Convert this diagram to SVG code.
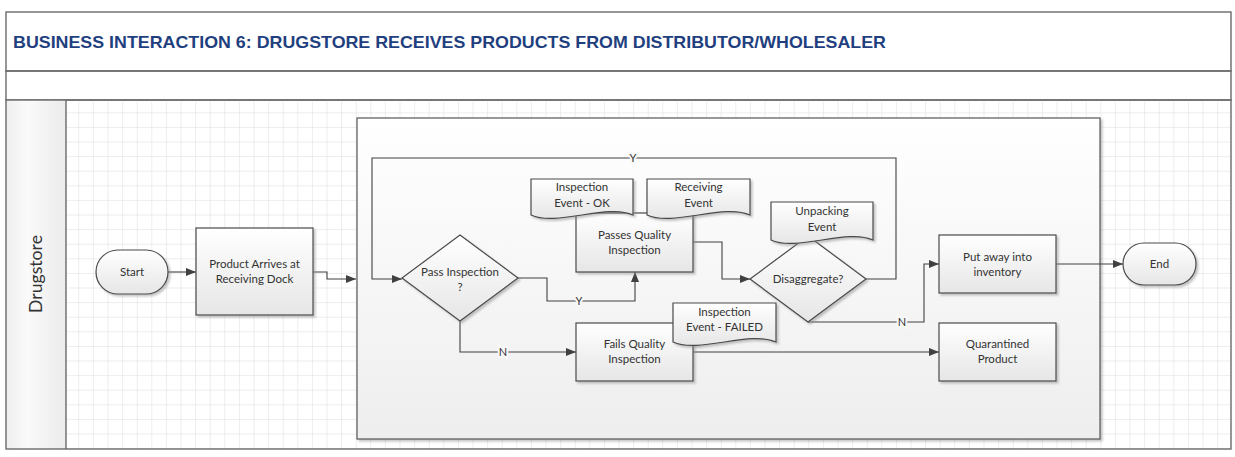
<svg xmlns="http://www.w3.org/2000/svg" width="1235" height="457" viewBox="0 0 1235 457">
<defs>
<style>
.frame{fill:none;stroke:#6a6a6a;stroke-width:1.4}
.node{fill:url(#ng);stroke:#4a4a4a;stroke-width:1.2;filter:url(#sh)}
.doc{fill:url(#ng);stroke:#4a4a4a;stroke-width:1.2;filter:url(#sh)}
.lbl{font-family:Lato,"Open Sans","Liberation Sans",sans-serif;font-size:11.5px;fill:#333;text-anchor:middle}
.conn{fill:none;stroke:#404040;stroke-width:1.1}
.ctl{font-family:Lato,"Open Sans","Liberation Sans",sans-serif;font-size:11px;fill:#333;text-anchor:middle;paint-order:stroke;stroke:#f8f8f8;stroke-width:4px}
</style>
<linearGradient id="ng" x1="0" y1="0" x2="0" y2="1"><stop offset="0" stop-color="#ffffff"/><stop offset="1" stop-color="#e6e6e6"/></linearGradient>
<linearGradient id="gg" x1="0" y1="0" x2="0" y2="1"><stop offset="0" stop-color="#ffffff"/><stop offset="1" stop-color="#eeeeee"/></linearGradient>
<linearGradient id="hg" x1="0" y1="0" x2="0" y2="1"><stop offset="0" stop-color="#fafafa"/><stop offset="0.5" stop-color="#f7f7f7"/><stop offset="1" stop-color="#ebebeb"/></linearGradient>
<linearGradient id="lg" x1="0" y1="0" x2="1" y2="0"><stop offset="0" stop-color="#efefef"/><stop offset="0.35" stop-color="#fafafa"/><stop offset="1" stop-color="#ebebeb"/></linearGradient>
<pattern id="grid" x="64.7" y="98.7" width="14.6" height="14.6" patternUnits="userSpaceOnUse"><path d="M14.6 0V14.6M0 14.6H14.6" fill="none" stroke="#dcdcdc" stroke-width="1"/></pattern>
<filter id="sh" x="-10%" y="-10%" width="130%" height="130%"><feDropShadow dx="2" dy="2" stdDeviation="1" flood-color="#888" flood-opacity="0.5"/></filter>
<marker id="ar" viewBox="0 0 10 8" refX="10" refY="4" markerWidth="10" markerHeight="8" markerUnits="userSpaceOnUse" orient="auto"><path d="M0 0L10 4L0 8Z" fill="#404040"/></marker>
</defs>
<rect x="0" y="0" width="1235" height="457" fill="#ffffff"/>
<g id="header">
<rect x="6" y="12" width="1225" height="59" fill="url(#hg)" class="frame"/>
<text x="13" y="48" font-family="Liberation Sans,Arial,sans-serif" font-size="16.5" font-weight="bold" fill="#1f3f7f" textLength="873" lengthAdjust="spacingAndGlyphs">BUSINESS INTERACTION 6: DRUGSTORE RECEIVES PRODUCTS FROM DISTRIBUTOR/WHOLESALER</text>
<rect x="6" y="71" width="1225" height="29" fill="url(#hg)" class="frame"/>
</g>
<g id="lane">
<rect x="66" y="100" width="1165" height="349" fill="url(#grid)"/>
<rect x="6" y="100" width="60" height="349" fill="url(#lg)"/>
<rect x="6" y="100" width="1225" height="349" class="frame"/>
<line x1="66" y1="100" x2="66" y2="449" stroke="#6a6a6a" stroke-width="1.4"/>
<text transform="translate(42,274) rotate(-90)" text-anchor="middle" font-family="Lato,'Open Sans','Liberation Sans',sans-serif" font-size="17" fill="#333" textLength="78" lengthAdjust="spacingAndGlyphs">Drugstore</text>
</g>
<g id="group-box">
<rect x="357" y="118" width="743" height="321" fill="url(#gg)" stroke="#555" stroke-width="1.2" filter="url(#sh)"/>
</g>
<g id="connectors">
<path class="conn" d="M168 272H196" marker-end="url(#ar)"/>
<path class="conn" d="M313 272H327V279H356" marker-end="url(#ar)"/>
<path class="conn" d="M866 279H896V158H372V279H402" marker-end="url(#ar)"/>
<path class="conn" d="M518 278H547V301H635V272" marker-end="url(#ar)"/>
<path class="conn" d="M460 321V352H576" marker-end="url(#ar)"/>
<path class="conn" d="M693 242H722V279H750" marker-end="url(#ar)"/>
<path class="conn" d="M808 322H924V264H939" marker-end="url(#ar)"/>
<path class="conn" d="M1056 264H1123" marker-end="url(#ar)"/>
<path class="conn" d="M693 352H939" marker-end="url(#ar)"/>
<text class="ctl" x="633" y="162">Y</text>
<text class="ctl" x="579" y="305">Y</text>
<text class="ctl" x="503" y="356">N</text>
<text class="ctl" x="902" y="326">N</text>
</g>
<g id="start">
<rect class="node" x="96" y="250" width="72" height="44" rx="22" ry="22"/>
<text class="lbl" x="132" y="276">Start</text>
</g>
<g id="product-arrives">
<rect class="node" x="196" y="228" width="117" height="87"/>
<text class="lbl" x="254.5" y="268">Product Arrives at</text>
<text class="lbl" x="254.5" y="283">Receiving Dock</text>
</g>
<g id="pass-inspection">
<path class="node" d="M460 235L518 278L460 321L402 278Z"/>
<text class="lbl" x="460" y="276">Pass Inspection</text>
<text class="lbl" x="460" y="291">?</text>
</g>
<g id="passes-quality">
<rect class="node" x="576" y="213" width="117" height="59"/>
<text class="lbl" x="634.5" y="239">Passes Quality</text>
<text class="lbl" x="634.5" y="254">Inspection</text>
</g>
<g id="inspection-ok">
<path class="doc" d="M531 179H633V215C607.5 203 556.5 227 531 215Z"/>
<text class="lbl" x="582" y="191">Inspection</text>
<text class="lbl" x="582" y="207">Event - OK</text>
</g>
<g id="receiving-event">
<path class="doc" d="M647 179H750V215C724 203 673 227 647 215Z"/>
<text class="lbl" x="698.5" y="191">Receiving</text>
<text class="lbl" x="698.5" y="207">Event</text>
</g>
<g id="disaggregate">
<path class="node" d="M808 236L866 279L808 322L750 279Z"/>
<text class="lbl" x="808" y="283">Disaggregate?</text>
</g>
<g id="unpacking-event">
<path class="doc" d="M771 202H873V240C847.5 228 796.5 252 771 240Z"/>
<text class="lbl" x="822" y="215">Unpacking</text>
<text class="lbl" x="822" y="231">Event</text>
</g>
<g id="fails-quality">
<rect class="node" x="576" y="323" width="117" height="58"/>
<text class="lbl" x="634.5" y="348">Fails Quality</text>
<text class="lbl" x="634.5" y="363">Inspection</text>
</g>
<g id="inspection-failed">
<path class="doc" d="M673 303H776V342C750 330 699 354 673 342Z"/>
<text class="lbl" x="724.5" y="316">Inspection</text>
<text class="lbl" x="724.5" y="331">Event - FAILED</text>
</g>
<g id="put-away">
<rect class="node" x="939" y="235" width="117" height="58"/>
<text class="lbl" x="997.5" y="261">Put away into</text>
<text class="lbl" x="997.5" y="276">inventory</text>
</g>
<g id="quarantined">
<rect class="node" x="939" y="323" width="117" height="58"/>
<text class="lbl" x="997.5" y="348">Quarantined</text>
<text class="lbl" x="997.5" y="363">Product</text>
</g>
<g id="end">
<rect class="node" x="1123" y="243" width="73" height="42" rx="21" ry="21"/>
<text class="lbl" x="1159.5" y="268">End</text>
</g>
</svg>
